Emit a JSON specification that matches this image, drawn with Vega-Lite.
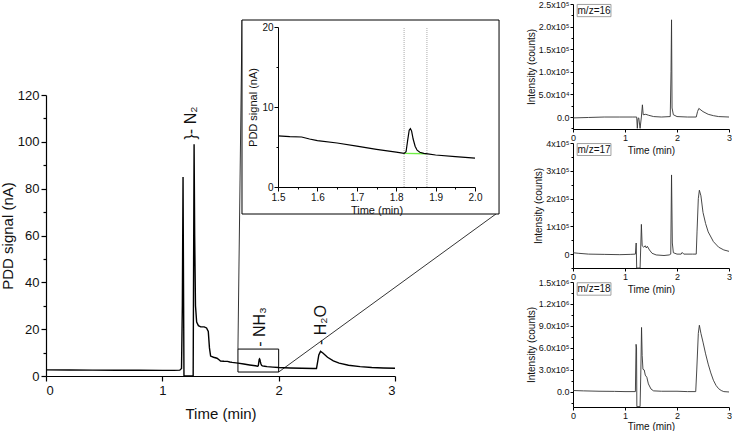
{
  "$schema": "https://vega.github.io/schema/vega-lite/v6.json",
  "padding": {"left": 0, "top": 0, "right": 0, "bottom": 0},
  "bounds": "flush",
  "spacing": 74,
  "config": {
    "view": {"stroke": null},
    "font": "Liberation Sans",
    "axis": {"domainColor": "#000", "tickColor": "#000", "labelColor": "#111", "titleColor": "#111", "grid": false, "titleFontWeight": "normal", "labelFont": "Liberation Sans", "titleFont": "Liberation Sans"}
  },
  "datasets": {
    "pdd": [
      {"t": 0, "v": 2.6}, {"t": 0.2, "v": 2.55}, {"t": 0.4, "v": 2.5}, {"t": 0.6, "v": 2.45}, {"t": 0.8, "v": 2.45},
      {"t": 1.0, "v": 2.4}, {"t": 1.1, "v": 2.4}, {"t": 1.15, "v": 2.5}, {"t": 1.165, "v": 3.2}, {"t": 1.172, "v": 30},
      {"t": 1.178, "v": 85}, {"t": 1.182, "v": 40}, {"t": 1.186, "v": 0}, {"t": 1.2, "v": 0}, {"t": 1.25, "v": 0},
      {"t": 1.265, "v": 0}, {"t": 1.269, "v": 50}, {"t": 1.273, "v": 99}, {"t": 1.278, "v": 60}, {"t": 1.285, "v": 30},
      {"t": 1.295, "v": 23}, {"t": 1.31, "v": 21.5}, {"t": 1.33, "v": 21}, {"t": 1.36, "v": 21}, {"t": 1.38, "v": 20.5},
      {"t": 1.395, "v": 19}, {"t": 1.405, "v": 12}, {"t": 1.415, "v": 8.5}, {"t": 1.44, "v": 8}, {"t": 1.47, "v": 7.6},
      {"t": 1.49, "v": 6.8}, {"t": 1.5, "v": 6.4}, {"t": 1.53, "v": 6.3}, {"t": 1.56, "v": 6.25}, {"t": 1.58, "v": 6.0},
      {"t": 1.6, "v": 5.8}, {"t": 1.65, "v": 5.5}, {"t": 1.7, "v": 5.1}, {"t": 1.75, "v": 4.7}, {"t": 1.8, "v": 4.35},
      {"t": 1.82, "v": 4.2}, {"t": 1.825, "v": 4.4}, {"t": 1.829, "v": 5.8}, {"t": 1.833, "v": 7.1}, {"t": 1.836, "v": 7.3},
      {"t": 1.839, "v": 7.0}, {"t": 1.843, "v": 6.0}, {"t": 1.848, "v": 5.1}, {"t": 1.853, "v": 4.6}, {"t": 1.86, "v": 4.35},
      {"t": 1.87, "v": 4.2}, {"t": 1.88, "v": 4.15}, {"t": 1.9, "v": 4.0}, {"t": 1.95, "v": 3.8}, {"t": 2.0, "v": 3.6},
      {"t": 2.1, "v": 3.4}, {"t": 2.2, "v": 3.3}, {"t": 2.3, "v": 3.2}, {"t": 2.325, "v": 3.2}, {"t": 2.335, "v": 6},
      {"t": 2.345, "v": 9}, {"t": 2.36, "v": 10.5}, {"t": 2.38, "v": 9.8}, {"t": 2.42, "v": 8}, {"t": 2.47, "v": 6.5},
      {"t": 2.52, "v": 5.5}, {"t": 2.6, "v": 4.6}, {"t": 2.7, "v": 4}, {"t": 2.8, "v": 3.6}, {"t": 2.9, "v": 3.4}, {"t": 3.0, "v": 3.3}
    ],
    "ms16": [
      {"t": 0, "c": -2000}, {"t": 0.3, "c": -1000}, {"t": 0.6, "c": 0}, {"t": 0.9, "c": 0}, {"t": 1.15, "c": 0},
      {"t": 1.225, "c": 0}, {"t": 1.237, "c": -25000}, {"t": 1.25, "c": -3000}, {"t": 1.265, "c": -2000}, {"t": 1.29, "c": -25000},
      {"t": 1.315, "c": 0}, {"t": 1.335, "c": 27000}, {"t": 1.35, "c": 5000}, {"t": 1.4, "c": 6000}, {"t": 1.45, "c": 4000},
      {"t": 1.55, "c": 1000}, {"t": 1.7, "c": 0}, {"t": 1.87, "c": 1000}, {"t": 1.885, "c": 100000}, {"t": 1.895, "c": 215000},
      {"t": 1.905, "c": 20000}, {"t": 1.93, "c": 5000}, {"t": 2.0, "c": 1000}, {"t": 2.2, "c": 0}, {"t": 2.37, "c": 0},
      {"t": 2.395, "c": 12000}, {"t": 2.42, "c": 19000}, {"t": 2.5, "c": 12000}, {"t": 2.6, "c": 6000}, {"t": 2.7, "c": 3000},
      {"t": 2.8, "c": 1000}, {"t": 3.0, "c": 0}
    ],
    "ms17": [
      {"t": 0, "c": 5000}, {"t": 0.1, "c": 3000}, {"t": 0.3, "c": 0}, {"t": 0.6, "c": -1000}, {"t": 0.9, "c": -2000},
      {"t": 1.1, "c": -1000}, {"t": 1.2, "c": 0}, {"t": 1.215, "c": 40000}, {"t": 1.225, "c": -50000}, {"t": 1.29, "c": -50000},
      {"t": 1.305, "c": 40000}, {"t": 1.315, "c": 107000}, {"t": 1.33, "c": 30000}, {"t": 1.36, "c": 25000}, {"t": 1.39, "c": 30000},
      {"t": 1.41, "c": 22000}, {"t": 1.43, "c": 28000}, {"t": 1.47, "c": 15000}, {"t": 1.52, "c": 3000}, {"t": 1.6, "c": -3000},
      {"t": 1.75, "c": -5000}, {"t": 1.85, "c": -3000}, {"t": 1.88, "c": 0}, {"t": 1.895, "c": 285000}, {"t": 1.91, "c": 40000},
      {"t": 1.93, "c": 5000}, {"t": 2.0, "c": 0}, {"t": 2.08, "c": 0}, {"t": 2.1, "c": 6000}, {"t": 2.13, "c": 0},
      {"t": 2.3, "c": 0}, {"t": 2.37, "c": 0}, {"t": 2.385, "c": 80000}, {"t": 2.41, "c": 200000}, {"t": 2.43, "c": 230000},
      {"t": 2.46, "c": 210000}, {"t": 2.5, "c": 150000}, {"t": 2.55, "c": 110000}, {"t": 2.6, "c": 80000}, {"t": 2.7, "c": 45000},
      {"t": 2.8, "c": 25000}, {"t": 2.9, "c": 15000}, {"t": 3.0, "c": 10000}
    ],
    "ms18": [
      {"t": 0, "c": 20000}, {"t": 0.2, "c": 15000}, {"t": 0.5, "c": 10000}, {"t": 0.8, "c": 8000}, {"t": 1.0, "c": 5000},
      {"t": 1.2, "c": 5000}, {"t": 1.213, "c": 650000}, {"t": 1.222, "c": 600000}, {"t": 1.228, "c": -200000}, {"t": 1.29, "c": -200000},
      {"t": 1.305, "c": 300000}, {"t": 1.318, "c": 880000}, {"t": 1.33, "c": 500000}, {"t": 1.345, "c": 310000}, {"t": 1.37, "c": 300000},
      {"t": 1.39, "c": 230000}, {"t": 1.42, "c": 200000}, {"t": 1.45, "c": 110000}, {"t": 1.5, "c": 40000}, {"t": 1.55, "c": 15000},
      {"t": 1.7, "c": 10000}, {"t": 2.0, "c": 10000}, {"t": 2.2, "c": 5000}, {"t": 2.36, "c": 5000}, {"t": 2.38, "c": 300000},
      {"t": 2.41, "c": 800000}, {"t": 2.43, "c": 910000}, {"t": 2.46, "c": 800000}, {"t": 2.5, "c": 680000}, {"t": 2.55, "c": 520000},
      {"t": 2.6, "c": 380000}, {"t": 2.65, "c": 260000}, {"t": 2.7, "c": 160000}, {"t": 2.75, "c": 90000}, {"t": 2.8, "c": 45000},
      {"t": 2.85, "c": 20000}, {"t": 2.9, "c": 5000}, {"t": 3.0, "c": 0}
    ]
  },
  "hconcat": [
    {
      "width": 453,
      "height": 372,
      "resolve": {"scale": {"x": "independent", "y": "independent"}},
      "layer": [
        {
          "layer": [
            {
              "data": {"name": "pdd"},
              "mark": {"type": "line", "color": "#000", "strokeWidth": 1.4},
              "encoding": {
                "x": {"field": "t", "type": "quantitative", "scale": {"domain": [0, 3], "range": [0, 349], "nice": false, "zero": false},
                  "axis": {"title": "Time (min)", "orient": "bottom", "values": [0, 0.5, 1, 1.5, 2, 2.5, 3], "tickCount": 100, "format": "d",
                    "labelExpr": "datum.value % 1 === 0 ? datum.label : ''", "labelOverlap": false,
                    "tickSize": {"condition": {"test": "datum.value % 1 === 0", "value": 5}, "value": 3},
                    "labelFontSize": 13, "titleFontSize": 15, "labelPadding": 3, "titlePadding": 9, "domainWidth": 1.2, "tickWidth": 1.2}},
                "y": {"field": "v", "type": "quantitative", "scale": {"domain": [0, 120], "range": [372, 91], "nice": false, "zero": false},
                  "axis": {"title": "PDD signal (nA)", "orient": "left", "values": [0, 10, 20, 30, 40, 50, 60, 70, 80, 90, 100, 110, 120], "tickCount": 100, "format": "d",
                    "labelExpr": "datum.value % 20 === 0 ? datum.label : ''", "labelOverlap": false,
                    "tickSize": {"condition": {"test": "datum.value % 20 === 0", "value": 5}, "value": 3},
                    "labelFontSize": 13, "titleFontSize": 15, "labelPadding": 2, "titlePadding": 2, "domainWidth": 1.2, "tickWidth": 1.2}}
              }
            },
            {
              "data": {"values": [{}]},
              "mark": {"type": "rect", "fillOpacity": 0, "stroke": "#000", "strokeWidth": 1},
              "encoding": {
                "x": {"datum": 1.65, "type": "quantitative"}, "x2": {"datum": 2.0},
                "y": {"datum": 1.7, "type": "quantitative"}, "y2": {"datum": 11.5}
              }
            },
            {
              "data": {"values": [{}]},
              "mark": {"type": "rule", "color": "#000", "strokeWidth": 0.8},
              "encoding": {
                "x": {"datum": 1.65, "type": "quantitative"}, "x2": {"datum": 1.685},
                "y": {"datum": 11.5, "type": "quantitative"}, "y2": {"datum": 152}
              }
            },
            {
              "data": {"values": [{}]},
              "mark": {"type": "rule", "color": "#000", "strokeWidth": 0.8},
              "encoding": {
                "x": {"datum": 2.0, "type": "quantitative"}, "x2": {"datum": 3.868},
                "y": {"datum": 1.7, "type": "quantitative"}, "y2": {"datum": 69.2}
              }
            },
            {
              "data": {"values": [{}]},
              "mark": {"type": "text", "angle": 270, "align": "left", "baseline": "middle", "fontSize": 16, "color": "#111"},
              "encoding": {
                "x": {"datum": 1.245, "type": "quantitative"}, "y": {"datum": 101, "type": "quantitative"},
                "text": {"value": "}- N₂"}
              }
            },
            {
              "data": {"values": [{}]},
              "mark": {"type": "text", "angle": 270, "align": "left", "baseline": "middle", "fontSize": 16, "color": "#111"},
              "encoding": {
                "x": {"datum": 1.84, "type": "quantitative"}, "y": {"datum": 12.5, "type": "quantitative"},
                "text": {"value": "- NH₃"}
              }
            },
            {
              "data": {"values": [{}]},
              "mark": {"type": "text", "angle": 270, "align": "left", "baseline": "middle", "fontSize": 16, "color": "#111"},
              "encoding": {
                "x": {"datum": 2.365, "type": "quantitative"}, "y": {"datum": 13.2, "type": "quantitative"},
                "text": {"value": "- H₂O"}
              }
            }
          ]
        },
        {
          "layer": [
            {
              "data": {"values": [{}]},
              "mark": {"type": "rect", "fill": "#fff", "stroke": "#000", "strokeWidth": 1},
              "encoding": {
                "x": {"datum": 1.4086, "type": "quantitative", "scale": {"domain": [1.5, 2.0], "range": [232, 429], "nice": false, "zero": false},
                  "axis": {"title": "Time (min)", "orient": "bottom", "offset": -189, "zindex": 1,
                    "values": [1.5, 1.55, 1.6, 1.65, 1.7, 1.75, 1.8, 1.85, 1.9, 1.95, 2.0], "tickCount": 100, "format": ".1f",
                    "labelExpr": "abs(datum.value * 10 - round(datum.value * 10)) < 0.001 ? datum.label : ''", "labelOverlap": false,
                    "tickSize": {"condition": {"test": "abs(datum.value * 10 - round(datum.value * 10)) < 0.001", "value": 4}, "value": 2},
                    "labelFontSize": 10, "titleFontSize": 11, "labelPadding": 1, "titlePadding": 2, "labelFlush": false}},
                "x2": {"datum": 2.061},
                "y": {"datum": -3.375, "type": "quantitative", "scale": {"domain": [0, 20], "range": [183, 23], "nice": false, "zero": false},
                  "axis": {"title": "PDD signal (nA)", "orient": "left", "offset": -232, "zindex": 1,
                    "values": [0, 5, 10, 15, 20], "tickCount": 100, "format": "d",
                    "labelExpr": "datum.value % 10 === 0 ? datum.label : ''", "labelOverlap": false,
                    "tickSize": {"condition": {"test": "datum.value % 10 === 0", "value": 4}, "value": 2},
                    "labelFontSize": 10, "titleFontSize": 11, "labelPadding": 1, "titlePadding": 3, "labelFlush": false}},
                "y2": {"datum": 20.875}
              }
            },
            {
              "data": {"values": [{"b": 1.82}, {"b": 1.878}]},
              "mark": {"type": "rule", "color": "#aaa", "strokeWidth": 1, "strokeDash": [1, 1]},
              "encoding": {
                "x": {"field": "b", "type": "quantitative"},
                "y": {"datum": 0, "type": "quantitative"}, "y2": {"datum": 20}
              }
            },
            {
              "data": {"values": [{}]},
              "mark": {"type": "rule", "color": "#6fef45", "strokeWidth": 1.4},
              "encoding": {
                "x": {"datum": 1.82, "type": "quantitative"}, "x2": {"datum": 1.876},
                "y": {"datum": 4.2, "type": "quantitative"}, "y2": {"datum": 4.15}
              }
            },
            {
              "data": {"name": "pdd"},
              "transform": [{"filter": "datum.t >= 1.5 && datum.t <= 2.0"}],
              "mark": {"type": "line", "color": "#000", "strokeWidth": 1.2},
              "encoding": {
                "x": {"field": "t", "type": "quantitative"},
                "y": {"field": "v", "type": "quantitative"}
              }
            }
          ]
        }
      ]
    },
    {
      "vconcat": [
        {
          "width": 156, "height": 125,
          "layer": [
            {
              "data": {"name": "ms16"},
              "mark": {"type": "line", "color": "#333", "strokeWidth": 0.9},
              "encoding": {
                "x": {"field": "t", "type": "quantitative", "scale": {"domain": [0, 3], "nice": false, "zero": false},
                  "axis": {"title": "Time (min)", "orient": "bottom", "values": [0, 0.5, 1, 1.5, 2, 2.5, 3], "tickCount": 100, "format": "d",
                    "labelExpr": "datum.value % 1 === 0 ? datum.label : ''", "labelOverlap": false,
                    "tickSize": {"condition": {"test": "datum.value % 1 === 0", "value": 3}, "value": 2},
                    "labelFontSize": 9, "titleFontSize": 10, "labelPadding": 1, "titlePadding": 3, "labelFlush": false}},
                "y": {"field": "c", "type": "quantitative", "scale": {"domain": [-26500, 250000], "nice": false, "zero": false},
                  "axis": {"title": "Intensity (counts)", "orient": "left", "values": [-25000, 0, 25000, 50000, 75000, 100000, 125000, 150000, 175000, 200000, 225000, 250000], "tickCount": 100,
                    "labelOverlap": false,
                    "labelExpr": "datum.value === 250000 ? '2.5x10\u2075' : datum.value === 200000 ? '2.0x10\u2075' : datum.value === 150000 ? '1.5x10\u2075' : datum.value === 100000 ? '1.0x10\u2075' : datum.value === 50000 ? '5.0x10\u2074' : datum.value === 0 ? '0.0' : ''",
                    "tickSize": {"condition": {"test": "datum.value % 50000 === 0", "value": 3}, "value": 2},
                    "labelFontSize": 9, "titleFontSize": 10, "labelPadding": 1, "titlePadding": 2}}
              }
            },
            {
              "data": {"values": [{}]},
              "mark": {"type": "rect", "fill": "#fff", "stroke": "#888", "strokeWidth": 0.8},
              "encoding": {
                "x": {"datum": 0.08, "type": "quantitative"}, "x2": {"datum": 0.73},
                "y": {"datum": 249000, "type": "quantitative"}, "y2": {"datum": 222000}
              }
            },
            {
              "data": {"values": [{}]},
              "mark": {"type": "text", "fontSize": 10, "align": "center", "baseline": "middle", "color": "#111"},
              "encoding": {
                "x": {"datum": 0.405, "type": "quantitative"}, "y": {"datum": 235500, "type": "quantitative"},
                "text": {"value": "m/z=16"}
              }
            }
          ]
        },
        {
          "width": 156, "height": 125,
          "layer": [
            {
              "data": {"name": "ms17"},
              "mark": {"type": "line", "color": "#333", "strokeWidth": 0.9},
              "encoding": {
                "x": {"field": "t", "type": "quantitative", "scale": {"domain": [0, 3], "nice": false, "zero": false},
                  "axis": {"title": "Time (min)", "orient": "bottom", "values": [0, 0.5, 1, 1.5, 2, 2.5, 3], "tickCount": 100, "format": "d",
                    "labelExpr": "datum.value % 1 === 0 ? datum.label : ''", "labelOverlap": false,
                    "tickSize": {"condition": {"test": "datum.value % 1 === 0", "value": 3}, "value": 2},
                    "labelFontSize": 9, "titleFontSize": 10, "labelPadding": 1, "titlePadding": 3, "labelFlush": false}},
                "y": {"field": "c", "type": "quantitative", "scale": {"domain": [-50000, 400000], "nice": false, "zero": false},
                  "axis": {"title": "Intensity (counts)", "orient": "left", "values": [-50000, 0, 50000, 100000, 150000, 200000, 250000, 300000, 350000, 400000], "tickCount": 100,
                    "labelOverlap": false,
                    "labelExpr": "datum.value === 400000 ? '4x10\u2075' : datum.value === 300000 ? '3x10\u2075' : datum.value === 200000 ? '2x10\u2075' : datum.value === 100000 ? '1x10\u2075' : datum.value === 0 ? '0' : ''",
                    "tickSize": {"condition": {"test": "datum.value % 100000 === 0", "value": 3}, "value": 2},
                    "labelFontSize": 9, "titleFontSize": 10, "labelPadding": 1, "titlePadding": 2}}
              }
            },
            {
              "data": {"values": [{}]},
              "mark": {"type": "rect", "fill": "#fff", "stroke": "#888", "strokeWidth": 0.8},
              "encoding": {
                "x": {"datum": 0.08, "type": "quantitative"}, "x2": {"datum": 0.73},
                "y": {"datum": 398000, "type": "quantitative"}, "y2": {"datum": 355000}
              }
            },
            {
              "data": {"values": [{}]},
              "mark": {"type": "text", "fontSize": 10, "align": "center", "baseline": "middle", "color": "#111"},
              "encoding": {
                "x": {"datum": 0.405, "type": "quantitative"}, "y": {"datum": 376500, "type": "quantitative"},
                "text": {"value": "m/z=17"}
              }
            }
          ]
        },
        {
          "width": 156, "height": 125,
          "layer": [
            {
              "data": {"name": "ms18"},
              "mark": {"type": "line", "color": "#333", "strokeWidth": 0.9},
              "encoding": {
                "x": {"field": "t", "type": "quantitative", "scale": {"domain": [0, 3], "nice": false, "zero": false},
                  "axis": {"title": "Time (min)", "orient": "bottom", "values": [0, 0.5, 1, 1.5, 2, 2.5, 3], "tickCount": 100, "format": "d",
                    "labelExpr": "datum.value % 1 === 0 ? datum.label : ''", "labelOverlap": false,
                    "tickSize": {"condition": {"test": "datum.value % 1 === 0", "value": 3}, "value": 2},
                    "labelFontSize": 9, "titleFontSize": 10, "labelPadding": 1, "titlePadding": 1, "labelFlush": false}},
                "y": {"field": "c", "type": "quantitative", "scale": {"domain": [-205000, 1500000], "nice": false, "zero": false},
                  "axis": {"title": "Intensity (counts)", "orient": "left", "values": [-150000, 0, 150000, 300000, 450000, 600000, 750000, 900000, 1050000, 1200000, 1350000, 1500000], "tickCount": 100,
                    "labelOverlap": false,
                    "labelExpr": "datum.value === 1500000 ? '1.5x10\u2076' : datum.value === 1200000 ? '1.2x10\u2076' : datum.value === 900000 ? '9.0x10\u2075' : datum.value === 600000 ? '6.0x10\u2075' : datum.value === 300000 ? '3.0x10\u2075' : datum.value === 0 ? '0.0' : ''",
                    "tickSize": {"condition": {"test": "datum.value % 300000 === 0", "value": 3}, "value": 2},
                    "labelFontSize": 9, "titleFontSize": 10, "labelPadding": 1, "titlePadding": 2}}
              }
            },
            {
              "data": {"values": [{}]},
              "mark": {"type": "rect", "fill": "#fff", "stroke": "#888", "strokeWidth": 0.8},
              "encoding": {
                "x": {"datum": 0.08, "type": "quantitative"}, "x2": {"datum": 0.73},
                "y": {"datum": 1490000, "type": "quantitative"}, "y2": {"datum": 1320000}
              }
            },
            {
              "data": {"values": [{}]},
              "mark": {"type": "text", "fontSize": 10, "align": "center", "baseline": "middle", "color": "#111"},
              "encoding": {
                "x": {"datum": 0.405, "type": "quantitative"}, "y": {"datum": 1405000, "type": "quantitative"},
                "text": {"value": "m/z=18"}
              }
            }
          ]
        }
      ],
      "spacing": 14,
      "bounds": "flush"
    }
  ]
}
